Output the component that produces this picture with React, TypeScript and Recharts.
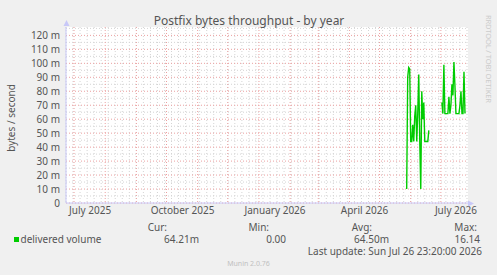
import { LineChart, Line, XAxis, YAxis, CartesianGrid } from "recharts";

const DAY = 86400000;
const day = (y: number, m: number, d: number) => Date.UTC(y, m - 1, d) / DAY;

// 400 day window ending at the last update
const START = day(2025, 6, 23);
const END = START + 400;

// delivered volume (milli bytes/s), one sample per day
const burst1Start = day(2026, 5, 28);
const burst1 = [10, 90, 97, 96, 44, 44, 56, 44, 62, 70, 44, 64, 92, 44, 10, 80, 60, 72, 44, 44, 44, 44, 52];
const burst2Start = day(2026, 7, 2);
const burst2 = [72, 64, 99, 64, 64, 64, 64, 76, 64, 70, 85, 77, 101, 84, 64, 64, 64, 64, 70, 80, 64, 64, 94, 64];

const xLabels = ["July 2025", "October 2025", "January 2026", "April 2026", "July 2026"];
const xLabelDays = [day(2025, 7, 17), day(2025, 10, 17), day(2026, 1, 17), day(2026, 4, 16), day(2026, 7, 16)];
const yTicks = [0, 10, 20, 30, 40, 50, 60, 70, 80, 90, 100, 110, 120];

const legendHeads = ["Cur:", "Min:", "Avg:", "Max:"];
const legendValues = ["64.21m", "0.00", "64.50m", "16.14"];

const data: { t: number; v: number | null }[] = [
  ...burst1.map((v, i) => ({ t: burst1Start + i, v })),
  { t: burst1Start + burst1.length, v: null },
  ...burst2.map((v, i) => ({ t: burst2Start + i, v })),
];

// grid positions
const monthStarts: number[] = [];
for (let i = 0; i < 14; i++) {
  const d = Date.UTC(2025, 6 + i, 1) / DAY;
  if (d > START && d < END) monthStarts.push(d);
}
const weeks: number[] = [];
for (let d = START; d < END; d += 7) weeks.push(d);
const minorY: number[] = [];
for (let v = 5; v <= 125; v += 10) minorY.push(v);

const FONT = "'Noto Sans', sans-serif";
const TXT = "#555";

export default function App() {
  return (
    <div style={{ position: "absolute", left: 0, top: 0, width: 497, height: 275, background: "#f0f0f0", fontFamily: FONT }}>
      <LineChart width={497} height={275} data={data} margin={{ top: 27, right: 29, bottom: 52, left: 0 }}>
        <CartesianGrid fill="#fff" stroke="#d4d4d4" strokeDasharray="1 2" verticalValues={weeks} horizontalValues={minorY} />
        <CartesianGrid stroke="#eba0a0" strokeDasharray="1 2" verticalValues={monthStarts} horizontalValues={yTicks} />
        <XAxis
          dataKey="t"
          type="number"
          domain={[START, END]}
          ticks={xLabelDays}
          tickFormatter={(v: number) => xLabels[xLabelDays.indexOf(v)] ?? ""}
          interval={0}
          height={20}
          tickLine={false}
          tickSize={2}
          tickMargin={2}
          axisLine={{ stroke: "#c8c8f8" }}
          tick={{ fill: TXT, fontSize: 10, fontFamily: FONT }}
          allowDataOverflow
        />
        <YAxis
          type="number"
          domain={[0, 126]}
          ticks={yTicks}
          interval={0}
          width={66}
          tickLine={false}
          tickSize={4}
          tickMargin={2}
          tickFormatter={(v: number) => (v === 0 ? "0" : `${v} m`)}
          axisLine={{ stroke: "#c8c8f8" }}
          tick={{ fill: TXT, fontSize: 10, fontFamily: FONT }}
          allowDataOverflow
        />
        <Line type="linear" dataKey="v" stroke="#00cc00" strokeWidth={1.4} dot={false} connectNulls={false} isAnimationActive={false} />
      </LineChart>
      <svg width={497} height={275} style={{ position: "absolute", left: 0, top: 0, pointerEvents: "none" }} fontFamily={FONT}>
        <polygon points="66.5,20 63.5,26 69.5,26" fill="#c8c8f8" />
        <line x1={468} y1={203.5} x2={472} y2={203.5} stroke="#c8c8f8" />
        <polygon points="474,203.5 468,200.5 468,206.5" fill="#c8c8f8" />
        <text x={249} y={25} textAnchor="middle" fontSize={12} fill={TXT}>Postfix bytes throughput - by year</text>
        <text x={14.5} y={118} textAnchor="middle" fontSize={10} fill={TXT} transform="rotate(-90 14.5 118)">bytes / second</text>
        <text x={486} y={15} fontSize={7.5} textLength={88} fill="#cccccc" transform="rotate(90 486 15)">RRDTOOL / TOBI OETIKER</text>
        {legendHeads.map((h, i) => (
          <text key={h} x={[167, 269, 372, 477][i]} y={231} textAnchor="end" fontSize={10} fill={TXT}>{h}</text>
        ))}
        <rect x={14} y={237} width={5} height={5} fill="#00cc00" />
        <text x={20.5} y={242.5} fontSize={10} fill={TXT}>delivered volume</text>
        {legendValues.map((v, i) => (
          <text key={i} x={[199, 286, 389, 480][i]} y={243} textAnchor="end" fontSize={10} fill={TXT}>{v}</text>
        ))}
        <text x={482} y={254.5} textAnchor="end" fontSize={10} fill={TXT}>Last update: Sun Jul 26 23:20:00 2026</text>
        <text x={248.5} y={266} textAnchor="middle" fontSize={7} fill="#c0c0c0">Munin 2.0.76</text>
      </svg>
    </div>
  );
}
